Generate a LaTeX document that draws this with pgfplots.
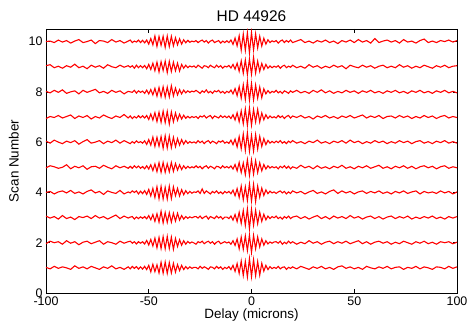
\documentclass[border=0pt]{standalone}
\usepackage{fontspec}
\setmainfont{Liberation Sans}
\usepackage{pgfplots}
\usepackage{pgfplotstable}
\pgfplotsset{compat=1.18}
\pgfplotstableread{
x d1 d2 d3 d4 d5 d6 d7 d8 d9 d10
-100 0.02 -0.04 0.06 0.00 -0.02 0.04 -0.06 0.02 0.04 0.00
-98 -0.04 0.06 -0.02 0.04 0.06 -0.04 0.02 -0.04 0.08 0.02
-96 0.06 0.00 0.04 -0.06 0.02 0.08 -0.02 0.06 -0.04 -0.04
-94 -0.02 0.04 -0.06 0.02 -0.04 0.00 0.06 -0.02 0.02 0.06
-92 0.04 -0.06 0.08 0.06 0.00 -0.06 -0.04 0.08 -0.06 -0.02
-90 0.00 0.08 -0.04 -0.02 0.10 0.04 0.02 -0.06 0.04 0.04
-88 -0.06 -0.02 0.02 0.08 -0.06 -0.02 0.08 0.00 -0.02 -0.06
-86 0.08 0.04 -0.08 -0.04 0.04 0.06 -0.06 0.04 0.10 0.02
-84 -0.02 -0.08 0.04 0.02 -0.02 -0.08 0.04 -0.08 -0.04 0.08
-82 0.04 0.02 0.00 -0.06 0.06 0.02 -0.02 0.06 0.02 -0.04
-80 -0.04 0.06 0.06 0.04 -0.08 0.10 0.06 -0.02 -0.08 0.00
-78 0.06 -0.04 -0.04 0.10 0.02 -0.04 -0.08 0.04 0.06 0.06
-76 0.00 0.02 0.08 -0.02 0.04 0.00 0.02 0.10 -0.02 -0.08
-74 -0.06 0.08 -0.02 0.04 -0.04 0.06 -0.04 -0.04 0.04 0.04
-72 0.04 -0.06 0.04 -0.08 0.08 -0.06 0.08 0.02 -0.06 0.02
-70 -0.02 0.04 -0.06 0.06 0.00 0.04 0.00 -0.06 0.08 -0.04
-68 0.08 0.00 0.02 0.00 -0.06 -0.02 -0.06 0.06 0.00 0.08
-66 -0.04 -0.06 0.10 -0.04 0.06 0.08 0.04 -0.02 -0.04 -0.02
-64 0.02 0.06 -0.04 0.08 -0.02 -0.04 -0.02 0.04 0.06 0.04
-62 -0.06 -0.02 0.06 -0.06 0.04 0.06 0.10 -0.08 -0.02 -0.06
-60 0.04 0.04 -0.02 0.02 -0.04 -0.02 -0.04 0.02 0.04 0.02
-59 -0.04 0.06 0.02 -0.02 0.04 -0.06 0.04 0.00 -0.02 0.06
-58 0.06 -0.02 0.04 0.06 -0.04 0.02 -0.06 -0.02 0.04 -0.04
-57 -0.02 0.04 -0.06 0.00 0.06 -0.04 0.02 0.06 -0.06 0.02
-56 0.05 -0.05 0.02 0.06 -0.02 0.05 -0.04 -0.05 0.06 -0.02
-55 -0.05 0.04 -0.04 -0.06 0.05 -0.02 0.05 0.04 -0.04 0.06
-54 0.04 -0.02 0.03 0.05 -0.04 0.02 -0.03 -0.02 0.04 -0.04
-53 -0.05 0.04 -0.03 -0.05 0.03 -0.04 0.05 0.03 -0.04 0.05
-52 0.06 -0.05 0.04 0.07 -0.06 0.05 -0.04 -0.06 0.05 -0.05
-51 -0.07 0.09 -0.05 -0.08 0.06 -0.09 0.06 0.07 -0.08 0.06
-50 0.10 -0.09 0.08 0.12 -0.07 0.10 -0.10 -0.08 0.09 -0.10
-49 -0.16 0.13 -0.09 -0.14 0.10 -0.12 0.12 0.09 -0.11 0.12
-48 0.14 -0.13 0.12 0.16 -0.13 0.20 -0.12 -0.12 0.14 -0.13
-47 -0.15 0.18 -0.15 -0.20 0.13 -0.17 0.17 0.14 -0.16 0.22
-46 0.12 -0.20 0.15 0.22 -0.17 0.19 -0.18 -0.17 0.18 -0.19
-45 -0.20 0.21 -0.18 -0.25 0.18 -0.16 0.19 0.17 -0.21 0.20
-44 0.22 -0.23 0.25 0.24 -0.20 0.22 -0.21 -0.19 0.20 -0.15
-43 -0.21 0.24 -0.21 -0.26 0.19 -0.24 0.23 0.20 -0.15 0.21
-42 0.23 -0.24 0.20 0.20 -0.20 0.25 -0.22 -0.21 0.22 -0.23
-41 -0.22 0.25 -0.19 -0.26 0.14 -0.23 0.22 0.19 -0.23 0.22
-40 0.21 -0.23 0.19 0.25 -0.18 0.24 -0.28 -0.20 0.21 -0.20
-39 -0.20 0.22 -0.18 -0.24 0.19 -0.22 0.20 0.24 -0.19 0.21
-38 0.18 -0.26 0.17 0.22 -0.16 0.19 -0.19 -0.16 0.18 -0.17
-37 -0.17 0.17 -0.14 -0.13 0.15 -0.18 0.16 0.15 -0.16 0.15
-36 0.13 -0.15 0.17 0.16 -0.11 0.14 -0.13 -0.12 0.14 -0.13
-35 -0.11 0.12 -0.10 -0.14 0.10 -0.12 0.11 0.09 -0.17 0.11
-34 0.10 -0.10 0.08 0.11 -0.09 0.10 -0.08 -0.08 0.09 -0.10
-33 -0.07 0.08 -0.06 -0.09 0.06 -0.08 0.07 0.07 -0.06 0.07
-32 0.05 -0.06 0.04 0.07 -0.05 0.06 -0.05 -0.04 0.06 -0.05
-31 -0.04 0.05 -0.03 -0.05 0.04 -0.05 0.03 0.04 -0.04 0.05
-30 0.04 -0.02 0.03 0.04 -0.03 0.02 -0.04 -0.02 0.03 -0.03
-29 -0.02 0.03 -0.01 -0.03 0.02 -0.03 0.02 0.03 -0.01 0.02
-28 0.02 -0.01 0.03 0.02 -0.02 0.01 -0.02 0.00 0.03 -0.01
-27 0.02 -0.06 0.04 0.00 0.06 -0.04 0.02 0.06 -0.04 0.04
-26 -0.04 0.04 -0.02 0.06 -0.02 0.06 -0.06 0.00 0.06 -0.04
-25 0.06 0.00 0.06 -0.04 0.04 -0.02 0.04 -0.06 0.00 0.02
-24 -0.02 0.06 -0.04 0.14 -0.06 0.04 0.00 0.04 -0.06 0.06
-23 0.04 -0.04 0.02 -0.04 0.02 -0.06 0.06 -0.02 0.04 -0.02
-22 0.00 0.02 0.06 0.06 0.06 0.02 -0.04 0.08 0.02 0.04
-21 -0.06 0.06 -0.06 0.00 -0.04 0.06 0.02 -0.04 -0.04 -0.06
-20 0.04 -0.02 0.04 -0.06 0.04 -0.04 0.06 0.02 0.06 0.02
-19 0.02 0.04 0.00 0.04 0.00 0.04 -0.06 -0.06 0.00 0.06
-18 -0.04 -0.06 -0.04 -0.02 -0.06 0.00 0.04 0.04 -0.04 -0.04
-17 0.06 0.02 0.06 0.06 0.04 -0.06 0.00 0.00 0.06 0.00
-16 -0.02 0.06 -0.02 -0.04 0.02 0.04 -0.04 0.06 -0.02 0.04
-15 0.04 -0.04 0.04 0.02 -0.04 0.00 0.06 -0.04 0.04 -0.06
-14 -0.06 0.00 -0.06 -0.06 0.06 0.06 -0.02 0.02 -0.06 0.02
-13 0.02 0.04 0.02 0.04 -0.02 -0.04 0.04 -0.06 0.02 -0.04
-12 -0.03 -0.01 0.02 -0.02 0.03 0.01 -0.03 0.02 -0.01 0.03
-11 0.05 0.03 -0.04 0.04 -0.03 -0.05 0.04 -0.03 0.05 -0.04
-10 -0.07 -0.06 0.06 -0.05 0.05 0.08 -0.06 0.07 -0.05 0.06
-9 0.10 0.08 -0.10 0.09 -0.07 -0.10 0.09 -0.08 0.09 -0.11
-8 -0.14 -0.11 0.12 -0.13 0.11 0.12 -0.12 0.13 -0.10 0.14
-7 0.17 0.15 -0.16 0.15 -0.14 -0.19 0.17 -0.15 0.14 -0.17
-6 -0.22 -0.24 0.21 -0.20 0.19 0.22 -0.19 0.21 -0.18 0.23
-5 0.27 0.22 -0.23 0.25 -0.21 -0.26 0.24 -0.25 0.23 -0.34
-4 -0.30 -0.26 0.28 -0.29 0.17 0.32 -0.27 0.28 -0.26 0.30
-3 0.26 0.27 -0.31 0.22 -0.29 -0.33 0.32 -0.30 0.27 -0.35
-2 -0.36 -0.31 0.34 -0.32 0.30 0.37 -0.33 0.42 -0.31 0.35
-1 0.37 0.30 -0.44 0.34 -0.32 -0.36 0.35 -0.33 0.30 -0.45
0 -0.35 -0.38 0.33 -0.34 0.29 0.27 -0.32 0.33 -0.30 0.36
1 0.33 0.29 -0.30 0.32 -0.27 -0.35 0.30 -0.32 0.37 -0.33
2 -0.31 -0.24 0.29 -0.36 0.26 0.30 -0.20 0.27 -0.25 0.31
3 0.25 0.23 -0.24 0.25 -0.21 -0.27 0.30 -0.25 0.22 -0.25
4 -0.29 -0.17 0.21 -0.19 0.18 0.23 -0.20 0.19 -0.19 0.21
5 0.18 0.15 -0.15 0.17 -0.14 -0.17 0.16 -0.23 0.13 -0.18
6 -0.13 -0.10 0.13 -0.12 0.11 0.14 -0.11 0.12 -0.11 0.13
7 0.10 0.08 -0.09 0.10 -0.07 -0.10 0.09 -0.08 0.09 -0.10
8 -0.07 -0.05 0.06 -0.05 0.06 0.07 -0.06 0.05 -0.06 0.07
9 0.05 0.03 -0.04 0.05 -0.03 -0.04 0.04 -0.05 0.03 -0.04
10 -0.03 -0.02 0.04 -0.02 0.03 0.03 -0.03 0.02 -0.04 0.03
11 0.02 0.03 -0.01 0.02 -0.02 -0.03 0.01 -0.02 0.02 -0.01
12 -0.02 0.04 0.06 -0.04 0.02 0.04 -0.04 0.06 -0.02 0.04
13 0.06 -0.02 -0.04 0.02 -0.06 -0.02 0.06 -0.04 0.04 -0.06
14 -0.04 0.06 0.02 0.06 0.04 0.06 -0.02 0.02 -0.06 0.02
15 0.02 -0.06 -0.06 -0.02 -0.02 -0.04 0.04 -0.06 0.02 0.06
16 0.04 0.02 0.04 0.04 0.06 0.02 -0.06 0.04 0.06 -0.04
17 -0.06 -0.04 -0.02 -0.06 -0.04 -0.06 0.02 0.00 -0.04 0.04
18 0.02 0.06 0.06 0.02 0.04 0.04 0.06 -0.06 0.02 -0.02
19 -0.02 -0.02 -0.04 -0.04 -0.06 -0.02 -0.04 0.04 -0.02 0.06
20 0.04 0.04 0.02 0.06 0.02 0.06 0.04 -0.02 0.06 -0.04
22 -0.04 -0.06 0.06 -0.02 -0.04 -0.04 -0.02 0.06 -0.04 0.02
24 0.06 0.02 -0.04 0.04 0.08 0.02 0.06 -0.04 0.02 0.08
26 0.00 -0.04 0.04 -0.06 -0.02 -0.06 -0.04 0.02 -0.06 -0.04
28 -0.06 0.08 -0.06 0.02 0.04 0.04 0.02 -0.06 0.08 0.02
30 0.04 -0.02 0.02 0.08 -0.06 -0.02 -0.08 0.06 -0.02 -0.06
32 -0.02 0.04 0.08 -0.04 0.06 0.08 0.04 -0.02 0.04 0.04
34 0.06 -0.06 -0.04 0.02 -0.04 -0.04 -0.02 0.08 -0.06 -0.02
36 -0.04 0.02 0.04 -0.06 0.02 0.02 0.06 -0.04 0.02 0.06
38 0.02 0.06 -0.06 0.04 -0.06 -0.06 -0.04 0.04 -0.04 -0.04
40 -0.06 -0.04 0.06 0.10 0.04 0.04 0.02 -0.06 0.06 0.02
42 0.04 0.04 -0.02 -0.04 -0.02 -0.02 -0.06 0.02 -0.02 -0.08
44 0.08 -0.02 0.04 0.06 0.08 0.06 0.04 -0.04 0.04 0.04
46 -0.02 0.06 -0.04 -0.02 -0.04 -0.04 -0.02 0.06 -0.08 -0.02
48 0.04 -0.04 0.08 0.04 0.02 0.08 0.06 -0.02 0.06 0.06
50 -0.04 0.02 -0.02 -0.06 -0.06 -0.02 -0.04 0.04 0.00 -0.04
52 0.02 0.08 0.04 0.02 0.04 0.04 0.02 -0.06 -0.04 0.08
54 -0.06 -0.04 -0.06 0.06 -0.02 -0.06 0.08 0.04 0.06 -0.02
56 0.06 0.04 0.02 -0.04 0.06 0.02 -0.04 -0.02 -0.02 0.04
58 0.00 -0.06 0.06 0.04 -0.04 -0.04 0.04 0.06 0.04 -0.06
60 -0.04 0.02 -0.04 -0.02 0.02 0.06 -0.02 -0.04 -0.06 0.12
62 0.04 0.06 0.04 0.06 0.08 -0.02 0.06 0.02 0.02 -0.04
64 -0.02 -0.02 -0.06 -0.04 -0.04 0.04 -0.06 -0.06 0.06 0.02
66 0.06 0.04 0.02 0.02 0.02 -0.06 0.02 0.04 -0.04 0.06
68 -0.04 -0.06 0.06 -0.06 -0.06 0.02 0.04 -0.02 0.02 -0.02
70 0.02 0.02 -0.04 0.04 0.04 -0.04 -0.04 0.06 -0.04 0.04
72 0.04 -0.04 0.04 -0.02 -0.02 0.06 0.06 -0.04 0.08 -0.06
74 -0.06 0.06 -0.02 0.06 0.06 -0.02 -0.02 0.02 -0.02 0.08
76 0.02 0.00 0.06 -0.04 -0.04 0.04 0.04 -0.06 0.04 -0.02
78 -0.02 -0.06 -0.06 0.02 0.04 -0.06 -0.06 0.04 -0.06 0.02
80 0.06 0.04 0.02 0.06 -0.06 0.02 0.02 -0.02 0.02 -0.06
82 -0.04 -0.02 -0.04 -0.06 0.02 0.06 -0.04 0.06 -0.04 0.04
84 0.04 0.06 0.04 0.04 0.06 -0.04 0.06 -0.04 0.06 0.10
86 0.00 -0.04 -0.02 -0.02 -0.02 0.02 -0.02 0.02 0.00 -0.04
88 -0.06 0.02 0.06 0.02 0.04 -0.06 0.04 -0.06 -0.06 0.02
90 0.04 -0.06 -0.04 -0.04 -0.06 0.04 -0.06 0.04 0.04 -0.04
92 0.02 0.04 0.02 0.06 0.02 -0.02 0.02 -0.02 -0.02 0.04
94 -0.04 0.00 -0.06 -0.02 0.06 0.06 0.06 0.06 0.06 0.00
96 0.06 0.04 0.04 0.04 -0.04 -0.04 -0.04 -0.04 -0.04 0.06
98 -0.02 -0.04 -0.02 -0.06 0.02 0.02 0.02 0.02 0.02 -0.02
100 0.04 0.02 0.04 0.02 -0.02 -0.04 -0.02 -0.04 0.04 0.04
}\scans
\begin{document}
\begin{tikzpicture}
\begin{axis}[
  scale only axis, width=411bp, height=264bp,
  xmin=-100, xmax=100, ymin=0, ymax=10.5,
  xtick={-100,-50,0,50,100}, ytick={0,2,4,6,8,10},
  tick align=inside, major tick length=4bp,
  tick style={black, line width=0.6pt},
  axis line style={black, line width=0.9pt},
  /pgf/number format/assume math mode=true,
  ticklabel style={font=\fontsize{12.5}{14}\selectfont},
  label style={font=\fontsize{13.5}{16}\selectfont},
  title style={font=\fontsize{15.5}{18}\selectfont, yshift=-2bp},
  title={HD 44926},
  xlabel={Delay (microns)}, ylabel={Scan Number},
  xlabel style={yshift=3bp}, ylabel style={yshift=3bp},
]
\pgfplotsinvokeforeach{1,...,10}{
  \addplot[red, line width=1.1pt] table[x=x, y expr=\thisrow{d#1}+#1]{\scans};
}
\end{axis}
\pgfresetboundingbox
\path[use as bounding box] ([xshift=-46bp,yshift=-31bp]current axis.south west) rectangle ([xshift=15bp,yshift=29bp]current axis.north east);
\end{tikzpicture}
\end{document}
